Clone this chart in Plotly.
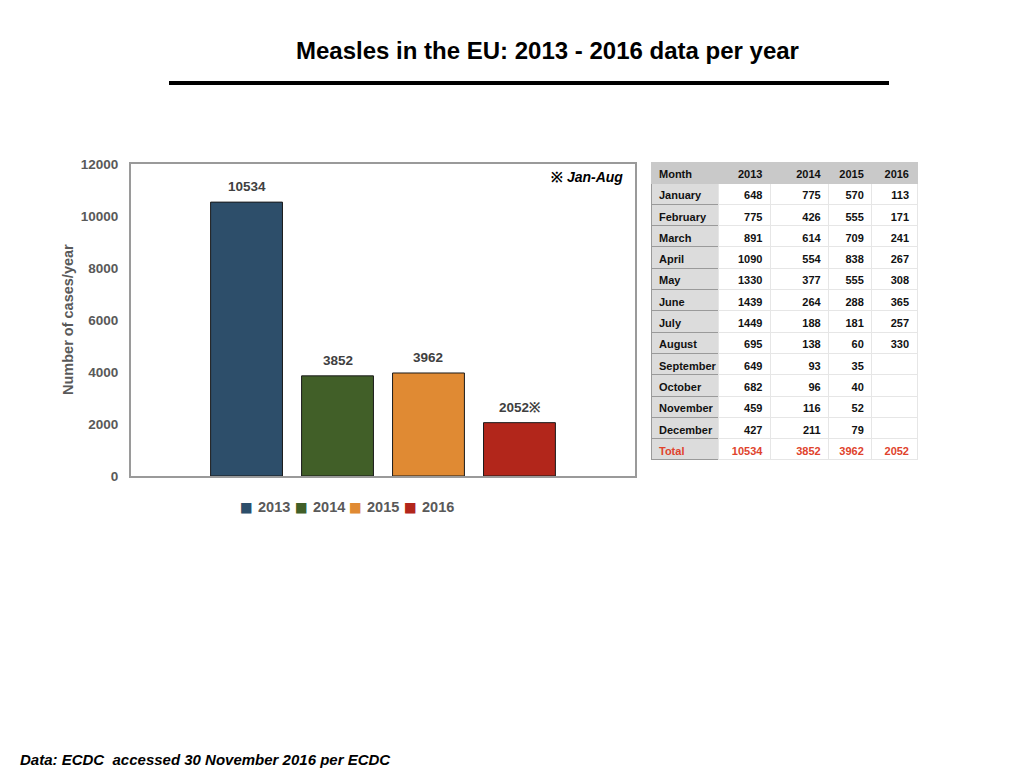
import plotly.graph_objects as go

# yearly totals
years = ["2013", "2014", "2015", "2016"]
totals = [10534, 3852, 3962, 2052]
bar_labels = ["10534", "3852", "3962", "2052※"]
colors = ["#2d4e6a", "#415f28", "#e08a33", "#b2261b"]

# monthly table
months = ["January", "February", "March", "April", "May", "June", "July",
          "August", "September", "October", "November", "December", "Total"]
m2013 = [648, 775, 891, 1090, 1330, 1439, 1449, 695, 649, 682, 459, 427, 10534]
m2014 = [775, 426, 614, 554, 377, 264, 188, 138, 93, 96, 116, 211, 3852]
m2015 = [570, 555, 709, 838, 555, 288, 181, 60, 35, 40, 52, 79, 3962]
m2016 = [113, 171, 241, 267, 308, 365, 257, 330, "", "", "", "", 2052]

FONT = "Liberation Sans"
GRAY = "#595959"
OFF = 8  # page body margin in the screenshot

def px(x):
    return (x - OFF) / 1024

def py(y):
    return 1 - (y - OFF) / 768

fig = go.Figure()

for i, yr in enumerate(years):
    fig.add_trace(go.Bar(
        x=[yr], y=[totals[i]], name=yr,
        width=0.79,
        marker=dict(color=colors[i], line=dict(color="#1a1a1a", width=1)),
        hoverinfo="x+y",
    ))
    fig.add_annotation(x=i, y=totals[i], text=bar_labels[i], showarrow=False,
                       yanchor="bottom", yshift=6,
                       font=dict(family=FONT, size=13.5, color="#404040", weight="bold"))

# table
n = len(months)
red = "#e0432c"
def col_colors(base):
    return [base] * (n - 1) + [red]

fig.add_trace(go.Table(
    domain=dict(x=[px(651), px(917)], y=[py(461), py(162)]),
    columnwidth=[67, 52, 58, 43, 45],
    header=dict(
        values=["Month"] + years,
        fill_color="#c9c9c9",
        line=dict(color="#c9c9c9", width=1),
        align=["left", "right", "right", "right", "right"],
        font=dict(family=FONT, size=11, color="#111111", weight="bold"),
        height=21,
    ),
    cells=dict(
        values=[months, m2013, m2014, m2015, m2016],
        fill_color=[["#dcdcdc"] * n, ["white"] * n, ["white"] * n, ["white"] * n, ["white"] * n],
        line=dict(color=["#9a9a9a", "#e6e6e6", "#e6e6e6", "#e6e6e6", "#e6e6e6"], width=1),
        align=["left", "right", "right", "right", "right"],
        font=dict(family=FONT, size=11, weight="bold",
                  color=[col_colors("#111111")] * 5),
        height=21.3,
    ),
))

fig.update_layout(
    width=1024, height=768,
    margin=dict(l=0, r=0, t=0, b=0, autoexpand=False),
    paper_bgcolor="white", plot_bgcolor="white",
    barmode="overlay",
    showlegend=False,
    xaxis=dict(type="category", domain=[px(131), px(635)], range=[-1.27, 4.27],
               showticklabels=False, showgrid=False, zeroline=False, automargin=False,
               showline=True, mirror=True, linecolor="#9a9a9a", linewidth=2, ticks=""),
    yaxis=dict(domain=[py(476), py(164)], range=[0, 12000], dtick=2000,
               tickformat="d", automargin=False, ticklabelstandoff=8,
               showgrid=False, zeroline=False,
               showline=True, mirror=True, linecolor="#9a9a9a", linewidth=2, ticks="",
               tickfont=dict(family=FONT, size=13.5, color=GRAY, weight="bold")),
    font=dict(family=FONT),
)

# y axis title
fig.add_annotation(xref="paper", yref="paper", x=px(68), y=py(320),
                   text="Number of cases/year", textangle=-90, showarrow=False,
                   xanchor="center", yanchor="middle",
                   font=dict(family=FONT, size=14.5, color=GRAY, weight="bold"))

# legend built from years/colors (square + label per item)
step = 54.5
for i, (yr, c) in enumerate(zip(years, colors)):
    fig.add_annotation(xref="paper", yref="paper", x=px(254 + step * i), y=py(507),
                       text="■", showarrow=False, xanchor="right", yanchor="middle",
                       borderpad=0,
                       font=dict(family="DejaVu Sans", size=13.5, color=c))
    fig.add_annotation(xref="paper", yref="paper", x=px(257 + step * i), y=py(507),
                       text=yr, showarrow=False, xanchor="left", yanchor="middle",
                       borderpad=0,
                       font=dict(family=FONT, size=14.5, color=GRAY, weight="bold"))

# title
fig.add_annotation(xref="paper", yref="paper", x=px(547), y=py(50),
                   text="Measles in the EU: 2013 - 2016 data per year", showarrow=False,
                   xanchor="center", yanchor="middle",
                   font=dict(family=FONT, size=24, color="black", weight="bold"))
fig.add_shape(type="line", xref="paper", yref="paper",
              x0=px(169), x1=px(889), y0=py(83), y1=py(83),
              line=dict(color="black", width=4))

# footnote inside plot
fig.add_annotation(xref="paper", yref="paper", x=px(625), y=py(177),
                   text="※ <i>Jan-Aug</i>", showarrow=False, xanchor="right", yanchor="middle",
                   font=dict(family=FONT, size=14, color="black", weight="bold"))

# source
fig.add_annotation(xref="paper", yref="paper", x=px(18), y=py(759),
                   text="<i>Data: ECDC  accessed 30 November 2016 per ECDC</i>", showarrow=False,
                   xanchor="left", yanchor="middle",
                   font=dict(family=FONT, size=15, color="black", weight="bold"))

fig.write_html("out.html")
